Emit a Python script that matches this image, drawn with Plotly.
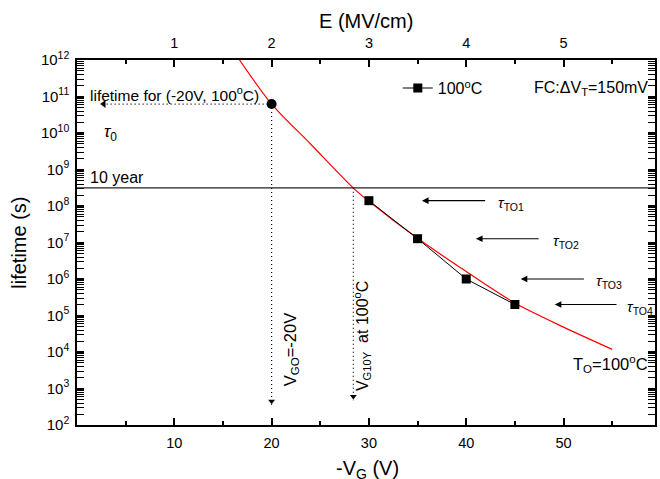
import math
import plotly.graph_objects as go

# ---------------- data ----------------
V_DATA = [30, 35, 40, 45]                      # -V_G (V)
T_DATA = [1.4e8, 1.27e7, 1.0e6, 2.0e5]         # lifetime (s) at 100 C

V_FIT = [16.7, 20, 24, 28.4, 30, 35, 40, 45, 50, 55]
T_FIT = [1.0e12, 6.2e10, 5.0e9, 3.1e8, 1.35e8, 1.3e7, 1.6e6, 2.2e5, 4.8e4, 1.18e4]

V_G0 = 20            # V_GO = -20 V
T_G0 = 6.2e10        # lifetime for (-20V, 100C)
V_G10Y = 28.4        # V at 10 year lifetime
TEN_YEARS_S = 3.15e8
ARROW_LEFT_V = 2.4   # tip of the horizontal dotted arrow
ARROW_BOTTOM_1 = 3.6e2
ARROW_BOTTOM_2 = 4.8e2

TAU_ARROW_TIP = [35.45, 41.0, 45.6, 49.1]
TAU_ARROW_TAIL = [42.1, 47.6, 52.25, 55.6]
TAU_LABEL_V = [43.1, 48.7, 53.1, 56.3]
TAU_LABELS = ["TO1", "TO2", "TO3", "TO4"]

X_RANGE = [0, 59.4]
THICKNESS_FACTOR = 10.0   # E (MV/cm) = -V_G / 10
X_TICKS = [10, 20, 30, 40, 50]
X_MINOR = [5, 15, 25, 35, 45, 55]
E_TICKS = [1, 2, 3, 4, 5]
E_MINOR = [0.5, 1.5, 2.5, 3.5, 4.5, 5.5]
Y_EXP = list(range(2, 13))

FONT = "Liberation Sans, Arial, sans-serif"

fig = go.Figure()

# red fit curve
fig.add_trace(go.Scatter(x=V_FIT, y=T_FIT, mode="lines",
                         line=dict(color="red", width=1.2, shape="spline", smoothing=0.8),
                         showlegend=False, hoverinfo="skip"))
# data
fig.add_trace(go.Scatter(x=V_DATA, y=T_DATA, mode="lines+markers",
                         name="100<sup>o</sup>C",
                         line=dict(color="black", width=1),
                         marker=dict(symbol="square", size=9, color="black")))
# dotted horizontal arrow
fig.add_trace(go.Scatter(x=[V_G0, ARROW_LEFT_V], y=[T_G0, T_G0], mode="lines",
                         line=dict(color="black", width=1.2, dash="1px,3px"),
                         showlegend=False, hoverinfo="skip"))
fig.add_trace(go.Scatter(x=[ARROW_LEFT_V + 0.35], y=[T_G0], mode="markers",
                         marker=dict(symbol="triangle-left", size=7, color="black"),
                         showlegend=False, hoverinfo="skip"))
# dotted vertical arrows
for vx, ytop, ybot in [(V_G0, T_G0, ARROW_BOTTOM_1), (V_G10Y, TEN_YEARS_S, ARROW_BOTTOM_2)]:
    fig.add_trace(go.Scatter(x=[vx, vx], y=[ytop, ybot], mode="lines",
                             line=dict(color="black", width=1.2, dash="1px,3px"),
                             showlegend=False, hoverinfo="skip"))
    fig.add_trace(go.Scatter(x=[vx], y=[ybot * 1.25], mode="markers",
                             marker=dict(symbol="triangle-down", size=6, color="black"),
                             showlegend=False, hoverinfo="skip"))
# black dot
fig.add_trace(go.Scatter(x=[V_G0], y=[T_G0], mode="markers",
                         marker=dict(symbol="circle", size=10, color="black"),
                         showlegend=False, hoverinfo="skip"))
# invisible trace for top axis
fig.add_trace(go.Scatter(x=[X_RANGE[0] / THICKNESS_FACTOR], y=[1e5], xaxis="x2",
                         mode="markers", marker=dict(opacity=0),
                         showlegend=False, hoverinfo="skip"))

# 10 year line
fig.add_shape(type="line", xref="paper", x0=0, x1=1, yref="y",
              y0=TEN_YEARS_S, y1=TEN_YEARS_S, line=dict(color="#222", width=1.2))

ann = []
def A(text, x, y, size=16, xanchor="left", yanchor="middle", angle=0, xref="x", yref="y"):
    ann.append(dict(text=text, x=x, y=y, xref=xref, yref=yref, showarrow=False,
                    xanchor=xanchor, yanchor=yanchor, textangle=angle,
                    font=dict(size=size, color="black", family=FONT)))

A("lifetime for (-20V, 100<sup>o</sup>C)", 1.13, 11.07, size=15.5)
A("<i>τ</i><sub>0</sub>", 2.56, 10.0, size=17)
A("10 year", 1.13, 8.79, size=16)
A("FC:ΔV<sub>T</sub>=150mV", 58.9, 11.22, size=16, xanchor="right")
A("T<sub>O</sub>=100<sup>o</sup>C", 58.9, 3.68, size=16.5, xanchor="right")
A("V<sub>GO</sub>=-20V", 22.0, 4.05, size=16.5, xanchor="center", angle=-90)
A("V<sub>G10Y</sub>\u00a0\u00a0at 100<sup>o</sup>C", 29.3, 4.44, size=16, xanchor="center", angle=-90)

for i in range(4):
    ly = math.log10(T_DATA[i])
    ann.append(dict(x=TAU_ARROW_TIP[i], y=ly, ax=TAU_ARROW_TAIL[i], ay=ly,
                    xref="x", yref="y", axref="x", ayref="y", text="",
                    showarrow=True, arrowhead=2, arrowsize=1.2, arrowwidth=1.1,
                    arrowcolor="black"))
    A("<i>τ</i><sub>%s</sub>" % TAU_LABELS[i], TAU_LABEL_V[i], ly - 0.08, size=15)

# axis titles
A("lifetime (s)", -0.1017, 0.5, size=20, xanchor="center", angle=-90, xref="paper", yref="paper")
A("E (MV/cm)", 0.5, 1.107, size=20, xanchor="center", xref="paper", yref="paper")
A("-V<sub>G</sub> (V)", 0.503, -0.122, size=20, xanchor="center", xref="paper", yref="paper")

axis_common = dict(showline=True, linecolor="black", linewidth=1.5, ticks="inside",
                   ticklen=7, tickwidth=1.5, tickcolor="black", showgrid=False,
                   zeroline=False)

fig.update_layout(
    width=660, height=479,
    margin=dict(l=77, r=3, t=60, b=54),
    paper_bgcolor="white", plot_bgcolor="white",
    font=dict(family=FONT, color="black"),
    annotations=ann,
    showlegend=True,
    legend=dict(x=0.555, y=0.923, xanchor="left", yanchor="middle",
                bgcolor="rgba(0,0,0,0)", font=dict(size=16, color="black", family=FONT)),
    xaxis=dict(range=X_RANGE, tickmode="array", tickvals=X_TICKS, ticklabelstandoff=4,
               tickfont=dict(size=14.5, color="black", family=FONT),
               minor=dict(tickmode="array", tickvals=X_MINOR, ticks="inside",
                          ticklen=4, tickwidth=1.5, tickcolor="black", showgrid=False),
               **axis_common),
    xaxis2=dict(range=[r / THICKNESS_FACTOR for r in X_RANGE], overlaying="x", side="top",
                anchor="y", tickmode="array", tickvals=E_TICKS, ticklabelstandoff=4,
                tickfont=dict(size=14.5, color="black", family=FONT),
                minor=dict(tickmode="array", tickvals=E_MINOR, ticks="inside",
                           ticklen=4, tickwidth=1.5, tickcolor="black", showgrid=False),
                **axis_common),
    yaxis=dict(type="log", range=[Y_EXP[0], Y_EXP[-1]], tickmode="array",
               tickvals=[10 ** e for e in Y_EXP],
               ticktext=["10<sup>%d</sup>" % e for e in Y_EXP],
               mirror="allticks", ticklabelstandoff=3,
               tickfont=dict(size=15, color="black", family=FONT),
               minor=dict(tickmode="array",
                          tickvals=[m * 10 ** e for e in Y_EXP[:-1] for m in range(2, 10)],
                          ticks="inside", ticklen=3.5, tickwidth=1, tickcolor="black",
                          showgrid=False),
               **axis_common),
)

fig.write_html("out.html")
